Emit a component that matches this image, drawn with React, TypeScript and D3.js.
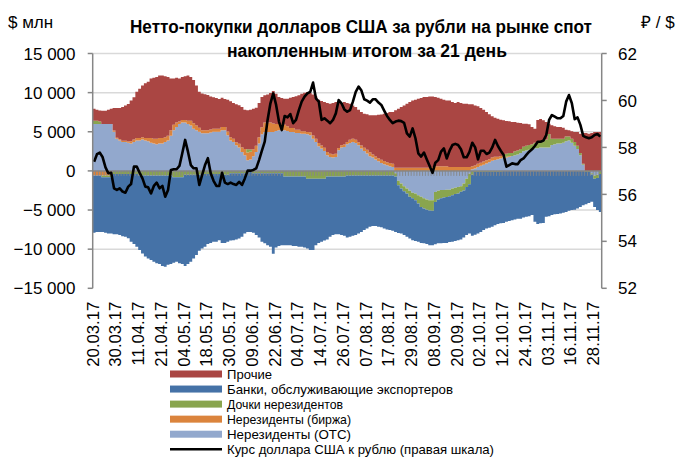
import React from 'react';
import * as d3 from 'd3';

// Tick labels (every 8th trading day)
const dateLabels = ['20.03.17','30.03.17','11.04.17','21.04.17','04.05.17','18.05.17','30.05.17','09.06.17','22.06.17','04.07.17','14.07.17','26.07.17','07.08.17','17.08.17','29.08.17','08.09.17','20.09.17','02.10.17','12.10.17','24.10.17','03.11.17','16.11.17','28.11.17'];

// $ mln, 21-day cumulative
const otc = [6000,6000,6000,6000,6000,6000,6000,5000,4100,3900,3700,3700,3600,3500,3700,3900,3900,4000,3900,3800,3600,3500,3400,3500,3500,3700,3900,4500,5200,5600,6000,6200,6200,6000,5800,5400,5200,5000,4800,4800,4800,4900,5000,5000,5000,
5200,5200,4550,3900,3700,3270,2980,2420,2000,1360,1450,1870,2420,3490,4680,4970,4970,4970,4970,5100,5190,5190,5190,5100,4970,4970,4850,4850,4760,4760,4680,4550,4120,3700,3150,2850,2550,2000,1790,1700,1790,2640,2980,3060,
3400,3570,3700,3570,3270,2850,2550,2210,1870,1700,1450,1230,1020,850,720,600,510,-300,-1270,-1600,-1950,-2250,-2550,-2800,-2900,-3100,-3300,-3500,-3650,-3750,-3750,-2680,-2550,-2450,-2450,-2400,-2400,-2250,-2150,-2050,-1950,-1600,-1000,-350,
200,300,500,650,800,950,1100,1300,1400,1500,1600,1700,1700,1800,1900,2000,2100,2300,2500,2600,2700,2800,2900,2900,3000,3000,3000,3000,3300,3400,3500,3500,3600,3800,3900,3600,3200,2800,2000,800,0,0,-300,-600,-500,0];

const exchange = [-600,-600,-600,-600,-600,-600,-600,150,150,150,150,150,150,300,300,300,300,300,300,400,600,600,700,700,700,600,600,700,700,600,300,300,300,400,600,700,600,500,400,400,400,400,400,400,400,
400,400,500,400,400,400,500,600,800,1000,1000,900,800,800,900,1200,1200,1200,1100,900,800,800,700,600,500,500,400,400,300,300,300,400,400,400,400,400,400,400,400,400,400,300,300,300,
300,400,400,400,400,400,400,500,500,400,400,400,400,400,400,400,400,400,400,400,400,400,400,400,400,400,400,400,400,400,500,600,600,600,600,600,500,500,500,500,500,500,500,500,
400,400,400,400,400,400,400,400,400,300,300,200,100,100,0,0,0,0,0,0,0,0,0,0,0,0,0,0,0,0,0,0,0,0,0,0,0,0,0,0,0,0,0,0,0,0];

const subsidiaries = [400,400,300,-200,-200,-200,-200,-400,-400,-400,-400,-400,-400,-400,-400,-400,-600,-600,-600,-600,-600,-600,-600,-600,-600,-600,-600,-600,-800,-800,-800,-800,-500,-500,-500,-500,-500,-500,-400,-400,-400,-400,-400,-400,-400,
-500,-500,-500,-300,-300,-300,-300,-300,-300,400,300,-300,-300,-300,-300,-300,-300,-300,-300,-300,-300,-300,-700,-700,-700,-700,-700,-700,-700,-700,-1000,-1000,-1000,-1000,-1000,-1000,-1000,-700,-700,-700,-700,-700,-700,-700,
-600,-600,-600,-600,-600,-600,-600,-600,-600,-600,-600,-600,-600,-600,-600,-600,-600,-400,-550,-650,-650,-650,-750,-700,-850,-1050,-1300,-1300,-1300,-1300,-1350,-1280,-1100,-1050,-950,-950,-850,-850,-800,-850,-700,-900,-1050,-1350,
-500,-150,-150,-150,-150,-150,-150,-150,-150,-150,-150,100,400,400,400,500,500,500,600,600,600,600,700,700,700,800,1000,1700,800,700,600,600,500,600,500,500,500,400,300,100,-150,-150,-150,-400,-400,-400];

const exporters = [-7300,-7200,-7200,-7000,-7100,-7200,-7200,-7700,-7700,-7800,-7950,-8000,-8200,-8650,-8950,-9300,-9500,-9950,-10350,-10600,-10800,-11000,-11200,-11300,-11550,-11650,-11400,-11300,-10950,-10800,-11000,-11100,-11650,-11400,-11100,-10700,-10250,-9700,-9500,-9300,-8950,-8800,-8650,-8650,-8450,
-8700,-8700,-8550,-8600,-8550,-8450,-8350,-8100,-7700,-7800,-7800,-7600,-7900,-8200,-8750,-8950,-9200,-9400,-10300,-9500,-9300,-9200,-8800,-8800,-8800,-8900,-8900,-9000,-9000,-9100,-8900,-9100,-9100,-8500,-8200,-8050,-7900,-8050,-7700,-7500,-7400,-7400,-7500,-7600,
-7900,-7800,-7700,-7600,-7400,-7200,-6950,-6750,-6550,-6450,-6450,-6550,-6600,-6750,-6900,-6950,-7050,-7100,-6100,-5750,-5600,-5500,-5350,-5350,-5200,-4900,-4600,-4450,-4400,-4450,-4400,-5400,-5600,-5750,-5800,-5850,-5850,-5950,-6000,-5950,-6100,-6000,-6150,-6300,
-7800,-8000,-7850,-7650,-7400,-7200,-7100,-7000,-6800,-6650,-6550,-6650,-6500,-6400,-6300,-6200,-6100,-6100,-5950,-5850,-5800,-5650,-6500,-6800,-6700,-6650,-5850,-5800,-5650,-5550,-5500,-5450,-5350,-5250,-5100,-5000,-4950,-4800,-4600,-4400,-4100,-3950,-3500,-3600,-4100,-4850];

const others = [1550,1420,1430,1700,1700,1800,1950,2900,3800,4000,4300,4500,4800,5200,5400,5900,6300,6600,7000,7200,7600,7800,7900,8000,8000,7800,7500,6600,5900,5700,5500,5500,5600,5800,5600,5500,5100,4600,4700,4600,4500,4200,4000,3900,3800,
3750,3600,4050,4600,4570,4830,4900,5140,5000,4975,5075,5180,4855,4385,3860,3480,3600,3775,4130,3860,3450,3325,3335,3520,3880,3965,4275,4400,4800,4940,5100,5000,5250,5420,5550,5675,5850,6270,6400,6570,6615,5735,5395,5440,
4970,4615,4270,4190,4150,4270,4360,4515,4730,5000,5255,5550,5800,6060,6275,6520,6610,7335,7550,7760,7970,8185,8400,8610,8700,8820,8910,9035,9035,9120,9020,8835,8750,8620,8500,8410,8510,8300,8170,8300,8170,8085,8085,8000,
7900,7670,7345,6980,6620,6170,5725,5270,5000,4870,4645,4460,4175,4030,3950,3750,3560,3320,2935,2835,2650,2210,1800,2900,2930,2660,2250,1335,1720,1595,1510,1510,1425,870,785,960,1270,1770,2460,3945,4845,4760,4845,4970,4970,4970];

// RUB per USD (right scale)
const usdRub = [57.39,57.71,57.78,57.58,57.15,56.90,56.92,56.26,56.19,56.26,56.12,56.07,56.33,56.44,57.18,57.18,56.92,56.68,56.33,56.30,56.04,56.36,56.50,56.26,56.36,55.90,56.19,57.04,57.07,57.07,57.21,57.75,58.32,57.82,57.25,57.11,57.11,56.40,56.83,57.25,57.54,56.90,56.58,56.36,56.36,
56.92,56.50,56.44,56.50,56.44,56.40,56.53,56.40,56.68,57.01,57.01,57.04,57.11,57.46,57.86,58.25,59.17,59.88,60.30,59.81,59.10,58.74,59.34,59.28,59.42,59.03,59.17,59.59,59.95,60.16,60.30,60.37,60.76,60.09,59.95,59.17,59.24,59.14,59.03,59.17,59.45,60.02,59.88,59.62,
59.52,59.59,59.95,60.37,60.59,60.42,60.05,59.99,59.91,60.05,60.05,59.91,59.81,59.57,59.34,59.17,59.03,59.10,59.14,59.12,59.05,58.60,58.46,58.81,58.39,57.75,57.61,57.78,57.49,57.21,56.92,57.35,57.46,57.82,57.96,57.53,57.86,58.10,58.15,58.10,57.92,57.58,57.58,57.81,
58.20,58.00,57.49,57.86,57.86,57.72,57.78,58.00,58.32,58.06,57.86,57.68,57.18,57.25,57.32,57.29,57.29,57.46,57.53,57.68,57.82,57.92,58.06,58.24,58.24,58.29,58.53,59.17,59.38,59.31,59.24,59.24,59.34,59.95,60.23,59.88,59.20,59.28,58.96,58.49,58.43,58.39,58.43,58.53,58.57,58.46];

const leftTicks = [15000, 10000, 5000, 0, -5000, -10000, -15000];
const rightTicks = [62, 60, 58, 56, 54, 52];

const seriesKeys = ['otc', 'exchange', 'subsidiaries', 'exporters', 'others'];
const seriesColors: Record<string, string> = {
  others: '#AA4643',
  exporters: '#4572A7',
  subsidiaries: '#89A54E',
  exchange: '#DB843D',
  otc: '#92A8CD',
};
const legendItems = [
  { key: 'others', label: 'Прочие', w: 45 },
  { key: 'exporters', label: 'Банки, обслуживающие экспортеров', w: 226 },
  { key: 'subsidiaries', label: 'Дочки нерезидентов', w: 116 },
  { key: 'exchange', label: 'Нерезиденты (биржа)', w: 124 },
  { key: 'otc', label: 'Нерезиденты (OTC)', w: 124 },
  { key: 'line', label: 'Курс доллара США к рублю (правая шкала)', w: 267 },
];

const W = 689, H = 458;
const X0 = 92.7, X1 = 601.7, YT = 53.5, YB = 288.3;
const FONT = '"Liberation Sans", Arial, sans-serif';
const AXIS = '#868686';

export default function App() {
  const n = otc.length;
  const idx = d3.range(n);
  const x = d3.scaleBand<number>().domain(idx).range([X0, X1]).padding(0);
  const bw = x.bandwidth();
  const y = d3.scaleLinear().domain([-15000, 15000]).range([YB, YT]);
  const yR = d3.scaleLinear().domain([52, 62]).range([YB, YT]);

  const rows = idx.map((i) => ({
    otc: otc[i], exchange: exchange[i], subsidiaries: subsidiaries[i], exporters: exporters[i], others: others[i],
  }));
  const stacked = d3.stack<any>().keys(seriesKeys).offset(d3.stackOffsetDiverging)(rows);

  const area = d3.area<[number, number, number]>()
    .x((p) => p[0]).y0((p) => y(p[1])).y1((p) => y(p[2]));

  const seriesPaths = stacked.map((s) => {
    const pts: [number, number, number][] = [];
    s.forEach((d, i) => {
      const x0 = x(i)!;
      pts.push([x0, d[0], d[1]]);
      pts.push([x0 + bw, d[0], d[1]]);
    });
    return { key: s.key as string, d: area(pts)! };
  });

  const line = d3.line<number>().x((_, i) => x(i)! + bw / 2).y((v) => yR(v));
  const y0 = y(0);

  return (
    <svg width={W} height={H} style={{ position: 'absolute', left: 0, top: 0, background: '#fff' }} fontFamily={FONT}>
      <defs>
        <clipPath id="plot">
          <rect x={X0} y={YT - 2} width={X1 - X0} height={YB - YT + 4} />
        </clipPath>
      </defs>
      {/* grid */}
      {leftTicks.filter((t) => t !== 0 && t !== -15000).map((t) => (
        <line key={t} x1={X0} x2={X1} y1={y(t)} y2={y(t)} stroke="#D9D9D9" strokeWidth={1.5} />
      ))}
      {/* bars */}
      <g clipPath="url(#plot)">
        {seriesPaths.map((p) => (
          <path key={p.key} d={p.d} fill={seriesColors[p.key]} />
        ))}
      </g>
      {/* zero axis with category ticks */}
      <line x1={X0} x2={X1} y1={y0} y2={y0} stroke={AXIS} strokeWidth={1.5} />
      {idx.map((i) => (
        <line key={i} x1={x(i)!} x2={x(i)!} y1={y0} y2={y0 + 5} stroke={AXIS} strokeWidth={0.9} />
      ))}
      {/* rate line */}
      <path d={line(usdRub)!} fill="none" stroke="#000" strokeWidth={2.6} strokeLinejoin="round" />
      {/* left axis */}
      <line x1={X0} x2={X0} y1={YT} y2={YB} stroke={AXIS} strokeWidth={1.5} />
      {leftTicks.map((t) => (
        <g key={t}>
          <line x1={X0 - 5} x2={X0} y1={y(t)} y2={y(t)} stroke={AXIS} strokeWidth={1.5} />
          <text x={75.5} y={y(t)} dy="0.36em" textAnchor="end" fontSize={17} fill="#000">
            {d3.format(',')(t).replace(/,/g, ' ')}
          </text>
        </g>
      ))}
      {/* right axis */}
      <line x1={X1} x2={X1} y1={YT} y2={YB} stroke={AXIS} strokeWidth={1.5} />
      {rightTicks.map((t) => (
        <g key={t}>
          <line x1={X1} x2={X1 + 5} y1={yR(t)} y2={yR(t)} stroke={AXIS} strokeWidth={1.5} />
          <text x={618} y={yR(t)} dy="0.36em" textAnchor="start" fontSize={17} fill="#000">{t}</text>
        </g>
      ))}
      {/* x labels */}
      {dateLabels.map((lab, k) => {
        const tx = x(k * 8)!;
        return (
          <text key={lab} transform={`translate(${tx},${301.7}) rotate(-90)`} dy="0.36em" textAnchor="end" fontSize={16.7} fill="#000">
            {lab}
          </text>
        );
      })}
      {/* titles */}
      <text x={8} y={28} fontSize={17} fill="#000">$ млн</text>
      <text x={641} y={28} fontSize={17} fill="#000">₽ / $</text>
      <text x={130} y={33} fontSize={17.6} fontWeight="bold" textLength={462} lengthAdjust="spacingAndGlyphs" fill="#000">
        Нетто-покупки долларов США за рубли на рынке спот
      </text>
      <text x={227} y={57} fontSize={17.6} fontWeight="bold" textLength={280} lengthAdjust="spacingAndGlyphs" fill="#000">
        накопленным итогом за 21 день
      </text>
      {/* legend */}
      {legendItems.map((it, k) => {
        const cy = 374 + k * 15.05;
        return (
          <g key={it.key}>
            {it.key === 'line' ? (
              <line x1={170} x2={222} y1={cy} y2={cy} stroke="#000" strokeWidth={2.6} />
            ) : (
              <rect x={170} y={cy - 3.5} width={52} height={7} fill={seriesColors[it.key]} />
            )}
            <text x={227} y={cy} dy="0.36em" fontSize={13.6} textLength={it.w} lengthAdjust="spacingAndGlyphs" fill="#000">{it.label}</text>
          </g>
        );
      })}
    </svg>
  );
}
